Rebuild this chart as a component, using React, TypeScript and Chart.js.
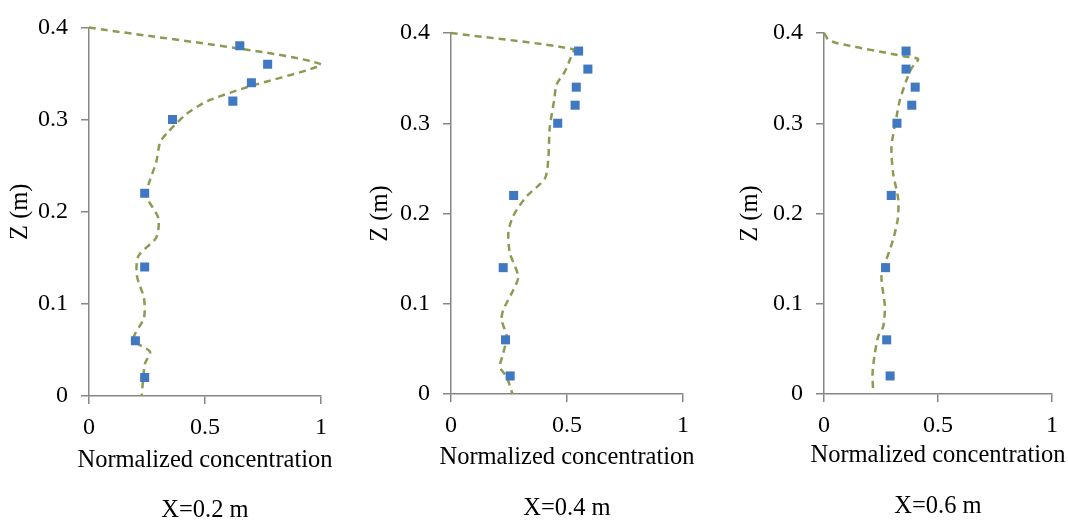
import React, { useEffect, useRef } from "react";
import { Chart, registerables } from "chart.js";

Chart.register(...registerables);

// Measurement heights (m), shared by all three stations
const measuredZ = [0.38, 0.36, 0.34, 0.32, 0.3, 0.22, 0.14, 0.06, 0.02];

// Measured normalized concentration at each station
const measuredX02 = [0.65, 0.77, 0.7, 0.62, 0.36, 0.24, 0.24, 0.2, 0.24];
const measuredX04 = [0.55, 0.59, 0.54, 0.535, 0.46, 0.27, 0.225, 0.235, 0.255];
const measuredX06 = [0.36, 0.36, 0.4, 0.385, 0.32, 0.295, 0.27, 0.275, 0.29];

// Simulated profiles: heights and concentrations
const simZX02 = [0.4, 0.36, 0.335, 0.32, 0.306, 0.285, 0.275, 0.254, 0.229, 0.216, 0.193, 0.172, 0.152, 0.131, 0.106, 0.085, 0.061, 0.048, 0.035, 0.0];
const simCX02 = [0.0, 1.0, 0.68, 0.51, 0.42, 0.335, 0.306, 0.29, 0.256, 0.249, 0.299, 0.29, 0.213, 0.206, 0.237, 0.237, 0.191, 0.263, 0.241, 0.227];

const simZX04 = [0.4, 0.382, 0.372, 0.357, 0.343, 0.326, 0.296, 0.259, 0.239, 0.219, 0.204, 0.193, 0.178, 0.156, 0.13, 0.115, 0.093, 0.082, 0.064, 0.045, 0.03, 0.019, 0.0];
const simCX04 = [0.0, 0.527, 0.515, 0.49, 0.455, 0.445, 0.426, 0.419, 0.405, 0.326, 0.283, 0.261, 0.247, 0.254, 0.29, 0.268, 0.225, 0.218, 0.24, 0.225, 0.211, 0.24, 0.265];

const simZX06 = [0.4, 0.393, 0.389, 0.374, 0.371, 0.361, 0.348, 0.326, 0.307, 0.274, 0.245, 0.215, 0.193, 0.171, 0.149, 0.13, 0.097, 0.075, 0.064, 0.045, 0.023, 0.0];
const simCX06 = [0.0, 0.018, 0.054, 0.355, 0.413, 0.384, 0.362, 0.333, 0.318, 0.296, 0.303, 0.326, 0.323, 0.303, 0.274, 0.252, 0.267, 0.26, 0.238, 0.223, 0.213, 0.216];

// Axis ticks
const xTickStep = 0.5;
const yTickStep = 0.1;

const FONT_FAMILY = "'Liberation Serif', 'Times New Roman', Times, serif";
const AXIS_GREY = "#868686";
const MARKER_BLUE = "#4079C1";
const LINE_OLIVE = "#8B9B52";

type PanelSpec = {
  caption: string;
  measured: number[];
  simZ: number[];
  simC: number[];
  plotLeft: number;
  plotRight: number;
  plotTop: number;
  plotBottom: number;
  yTitleCenter: number;
  xTitleCenter: number;
  captionCenter: number;
};

const panels: PanelSpec[] = [
  { caption: "X=0.2 m", measured: measuredX02, simZ: simZX02, simC: simCX02, plotLeft: 89, plotRight: 321, plotTop: 20, plotBottom: 396, yTitleCenter: 21, xTitleCenter: 461, captionCenter: 511 },
  { caption: "X=0.4 m", measured: measuredX04, simZ: simZX04, simC: simCX04, plotLeft: 451, plotRight: 683, plotTop: 33, plotBottom: 394, yTitleCenter: 381, xTitleCenter: 458, captionCenter: 509 },
  { caption: "X=0.6 m", measured: measuredX06, simZ: simZX06, simC: simCX06, plotLeft: 824, plotRight: 1052, plotTop: 33, plotBottom: 394, yTitleCenter: 751, xTitleCenter: 456, captionCenter: 507 },
];

const PAGE_W = 1068;
const PAGE_H = 524;
const CANVAS_W = 410;
const CANVAS_H = 540;
const X_AXIS_H = 40;
const TICK_SIZE = 24;
const TITLE_SIZE = 24.5;

const formatTick = (v: number | string) => String(Number(Number(v).toFixed(3)));

function Panel({ spec }: { spec: PanelSpec }) {
  const ref = useRef<HTMLCanvasElement | null>(null);
  // each canvas is centred on its plot so the full-width captions centre on the plot too
  const canvasLeft = Math.round((spec.plotLeft + spec.plotRight) / 2 - CANVAS_W / 2);

  useEffect(() => {
    if (!ref.current) return;
    const lh = TITLE_SIZE;
    const tickFont = { family: FONT_FAMILY, size: TICK_SIZE, weight: "normal" as const, lineHeight: 1.2 };
    const titleFont = { family: FONT_FAMILY, size: TITLE_SIZE, weight: "normal" as const, lineHeight: 1 };

    const leftW = spec.plotLeft - canvasLeft;
    const rightW = canvasLeft + CANVAS_W - spec.plotRight;
    const subPadTop = spec.xTitleCenter - lh / 2 - (spec.plotBottom + X_AXIS_H);
    const capPadTop = spec.captionCenter - spec.xTitleCenter - lh;
    const padBottom = CANVAS_H - (spec.captionCenter + lh / 2);

    const chart = new Chart(ref.current, {
      type: "scatter",
      data: {
        datasets: [
          {
            label: "Measured",
            data: measuredZ.map((z, i) => ({ x: spec.measured[i], y: z })),
            pointStyle: "rect",
            pointRadius: 6.4,
            pointBackgroundColor: MARKER_BLUE,
            pointBorderColor: MARKER_BLUE,
            pointBorderWidth: 0,
            showLine: false,
          },
          {
            label: "Simulated",
            data: spec.simZ.map((z, i) => ({ x: spec.simC[i], y: z })),
            showLine: true,
            pointRadius: 0,
            borderColor: LINE_OLIVE,
            borderWidth: 2.5,
            borderDash: [7, 5],
            tension: 0.25,
            clip: false,
          },
        ],
      },
      options: {
        animation: false,
        responsive: false,
        maintainAspectRatio: false,
        events: [],
        layout: {
          padding: { top: spec.plotTop, right: 0, bottom: padBottom, left: 0 },
        },
        plugins: {
          legend: { display: false },
          tooltip: { enabled: false },
          subtitle: {
            display: true,
            text: "Normalized concentration",
            position: "bottom",
            fullSize: true,
            color: "#000",
            font: titleFont,
            padding: { top: subPadTop, bottom: 0 },
          },
          title: {
            display: true,
            text: spec.caption,
            position: "bottom",
            fullSize: true,
            color: "#000",
            font: titleFont,
            padding: { top: capPadTop, bottom: 0 },
          },
        },
        scales: {
          x: {
            type: "linear",
            min: 0,
            max: 1,
            ticks: { stepSize: xTickStep, color: "#000", font: tickFont, padding: 9, callback: formatTick },
            grid: { drawOnChartArea: false, drawTicks: true, tickLength: 8, color: AXIS_GREY, lineWidth: 1.5 },
            border: { color: AXIS_GREY, width: 1.5 },
            afterFit: (s: any) => {
              s.height = X_AXIS_H;
            },
          },
          y: {
            type: "linear",
            min: 0,
            max: 0.4,
            ticks: { stepSize: yTickStep, color: "#000", font: tickFont, padding: 13, callback: formatTick },
            grid: { drawOnChartArea: false, drawTicks: true, tickLength: 8, color: AXIS_GREY, lineWidth: 1.5 },
            border: { color: AXIS_GREY, width: 1.5 },
            title: {
              display: true,
              text: "Z (m)",
              color: "#000",
              font: titleFont,
              padding: { top: spec.yTitleCenter - canvasLeft - lh / 2, bottom: 0 },
            },
            afterFit: (s: any) => {
              s.width = leftW;
            },
          },
          // blank margin on the right, same width as the left axis, keeps the plot centred
          yMargin: {
            type: "linear",
            position: "right",
            ticks: { display: false },
            grid: { display: false },
            border: { display: false },
            afterFit: (s: any) => {
              s.width = rightW;
            },
          },
        },
      },
    });
    return () => chart.destroy();
  }, [spec, canvasLeft]);

  return (
    <canvas
      ref={ref}
      width={CANVAS_W}
      height={CANVAS_H}
      style={{ position: "absolute", left: canvasLeft, top: 0, width: CANVAS_W, height: CANVAS_H }}
    />
  );
}

export default function App() {
  return (
    <div style={{ position: "absolute", left: 0, top: 0, width: PAGE_W, height: PAGE_H, background: "#fff", overflow: "hidden" }}>
      {panels.map((p) => (
        <Panel key={p.caption} spec={p} />
      ))}
    </div>
  );
}
